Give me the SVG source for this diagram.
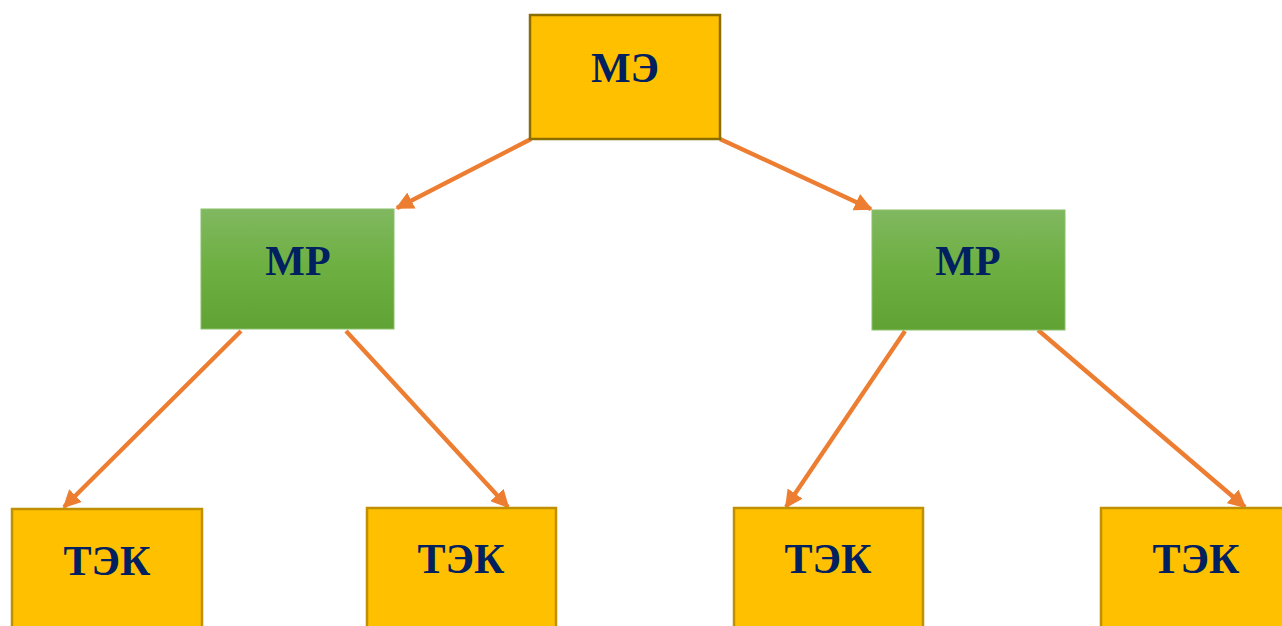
<svg xmlns="http://www.w3.org/2000/svg" width="1282" height="626" viewBox="0 0 1282 626">
<style>
.gold{fill:#FFC000;stroke:#C09000;stroke-width:2.5}
.top{fill:#FFC000;stroke:#8C6D00;stroke-width:2.5}
.green{fill:url(#g);stroke:#8CC06A;stroke-width:1}
.lbl{font-family:"Liberation Serif",serif;font-weight:bold;font-size:42px;fill:#002060;text-anchor:middle}
.con{stroke:#ED7D31;stroke-width:4.3;fill:none;marker-end:url(#ah)}
</style>
<defs>
<linearGradient id="g" x1="0" y1="0" x2="0" y2="1">
<stop offset="0" stop-color="#80B860"/>
<stop offset="0.5" stop-color="#6DAF40"/>
<stop offset="1" stop-color="#60A234"/>
</linearGradient>
<marker id="ah" viewBox="0 0 10 10" refX="9" refY="5" markerWidth="4.2" markerHeight="4.2" orient="auto" markerUnits="strokeWidth">
<path d="M0,0 L10,5 L0,10 z" fill="#ED7D31"/>
</marker>
</defs>
<g id="connectors">
<line class="con" x1="531" y1="139" x2="397" y2="208"/>
<line class="con" x1="720" y1="139" x2="871" y2="209"/>
<line class="con" x1="241" y1="331" x2="64" y2="507"/>
<line class="con" x1="346" y1="331" x2="508" y2="507"/>
<line class="con" x1="905" y1="331" x2="786" y2="507"/>
<line class="con" x1="1038" y1="330" x2="1245" y2="507"/>
</g>
<g id="me"><rect class="top" x="530" y="15" width="190" height="124"/><text class="lbl" x="625" y="82">МЭ</text></g>
<g id="mr1"><rect class="green" x="201" y="209" width="193" height="120"/><text class="lbl" x="298" y="275">МР</text></g>
<g id="mr2"><rect class="green" x="872" y="210" width="193" height="120"/><text class="lbl" x="968" y="275">МР</text></g>
<g id="tek1"><rect class="gold" x="12" y="509" width="190" height="130"/><text class="lbl" x="107" y="575">ТЭК</text></g>
<g id="tek2"><rect class="gold" x="367" y="508" width="189" height="130"/><text class="lbl" x="461" y="573">ТЭК</text></g>
<g id="tek3"><rect class="gold" x="734" y="508" width="189" height="130"/><text class="lbl" x="828" y="573">ТЭК</text></g>
<g id="tek4"><rect class="gold" x="1101" y="508" width="190" height="130"/><text class="lbl" x="1196" y="573">ТЭК</text></g>
</svg>
